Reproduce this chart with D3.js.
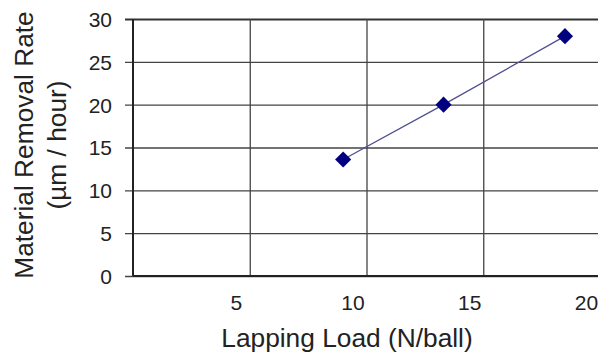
<!DOCTYPE html>
<html>
<head>
<meta charset="utf-8">
<script src="https://cdn.jsdelivr.net/npm/d3@7"></script>
<style>
  html, body { margin: 0; padding: 0; background: #fff; }
  svg { display: block; }
  text { font-family: "Liberation Sans", Arial, sans-serif; fill: #222; }
</style>
</head>
<body>
<svg id="chart" width="598" height="358"></svg>
<script>
// Lapping load (N/ball) vs. material removal rate (µm / hour)
const loads = [9.0, 13.3, 18.5];
const removalRates = [13.6, 20.0, 28.0];
const xTicks = [5, 10, 15, 20];
const yTicks = [0, 5, 10, 15, 20, 25, 30];
const xTitle = "Lapping Load (N/ball)";
const yTitleLines = ["Material Removal Rate", "(µm / hour)"];

const svg = d3.select("#chart");
const margin = { left: 133, top: 19, right: 0, bottom: 82 };
const plotW = 600 - margin.left;
const plotH = 358 - margin.top - margin.bottom;

const x = d3.scaleLinear().domain([0, 20]).range([0, plotW]);
const y = d3.scaleLinear().domain([0, 30]).range([plotH, 0]);

const g = svg.append("g").attr("transform", `translate(${margin.left},${margin.top})`);

// horizontal grid with short ticks left of the value axis
const yAxis = d3.axisLeft(y).tickValues(yTicks).tickSize(-plotW).tickPadding(0).tickSizeOuter(0);
const yg = g.append("g").call(yAxis);
yg.select(".domain").remove();
yg.selectAll(".tick line")
  .attr("x1", -8)
  .attr("stroke", "#444")
  .attr("stroke-width", 1.4);
yg.selectAll(".tick text")
  .attr("x", -21)
  .attr("dy", "0.35em")
  .style("font-size", "21px")
  .style("fill", "#222");
yg.selectAll(".tick").filter(d => d === 30).select("line").attr("stroke", "#333").attr("stroke-width", 2);

// vertical grid lines
const xAxis = d3.axisBottom(x).tickValues(xTicks).tickSize(-plotH).tickPadding(0).tickSizeOuter(0);
const xg = g.append("g").attr("transform", `translate(0,${plotH})`).call(xAxis);
xg.select(".domain").remove();
xg.selectAll(".tick line").attr("stroke", "#444").attr("stroke-width", 1.3);
xg.selectAll(".tick text")
  .attr("y", 34)
  .attr("dx", -14)
  .attr("dy", 0)
  .style("font-size", "21px")
  .style("fill", "#222");

// axis frame lines
g.append("line")
  .attr("x1", 0).attr("x2", 0).attr("y1", y(30)).attr("y2", y(0))
  .attr("stroke", "#222").attr("stroke-width", 2);
g.append("line")
  .attr("x1", 0).attr("x2", plotW).attr("y1", y(0)).attr("y2", y(0))
  .attr("stroke", "#222").attr("stroke-width", 2);

// data line and diamond markers
const pts = loads.map((v, i) => [v, removalRates[i]]);
g.append("path")
  .datum(pts)
  .attr("fill", "none")
  .attr("stroke", "#50508f")
  .attr("stroke-width", 1.3)
  .attr("d", d3.line().x(d => x(d[0])).y(d => y(d[1])));

const diamond = d3.symbol().type(d3.symbolSquare).size(130);
g.selectAll(".pt")
  .data(pts)
  .join("path")
  .attr("class", "pt")
  .attr("d", diamond)
  .attr("transform", d => `translate(${x(d[0])},${y(d[1])}) rotate(45)`)
  .attr("fill", "#000080");

// axis titles
svg.append("text")
  .attr("x", 347).attr("y", 347)
  .attr("text-anchor", "middle")
  .style("font-size", "26.3px")
  .text(xTitle);

const yTitle = svg.append("text")
  .attr("transform", "translate(0,145) rotate(-90)")
  .attr("text-anchor", "middle")
  .style("font-size", "26.3px");
yTitle.selectAll("tspan")
  .data(yTitleLines)
  .join("tspan")
  .attr("x", 0)
  .attr("y", (d, i) => 33 + i * 33)
  .text(d => d);
</script>
</body>
</html>
